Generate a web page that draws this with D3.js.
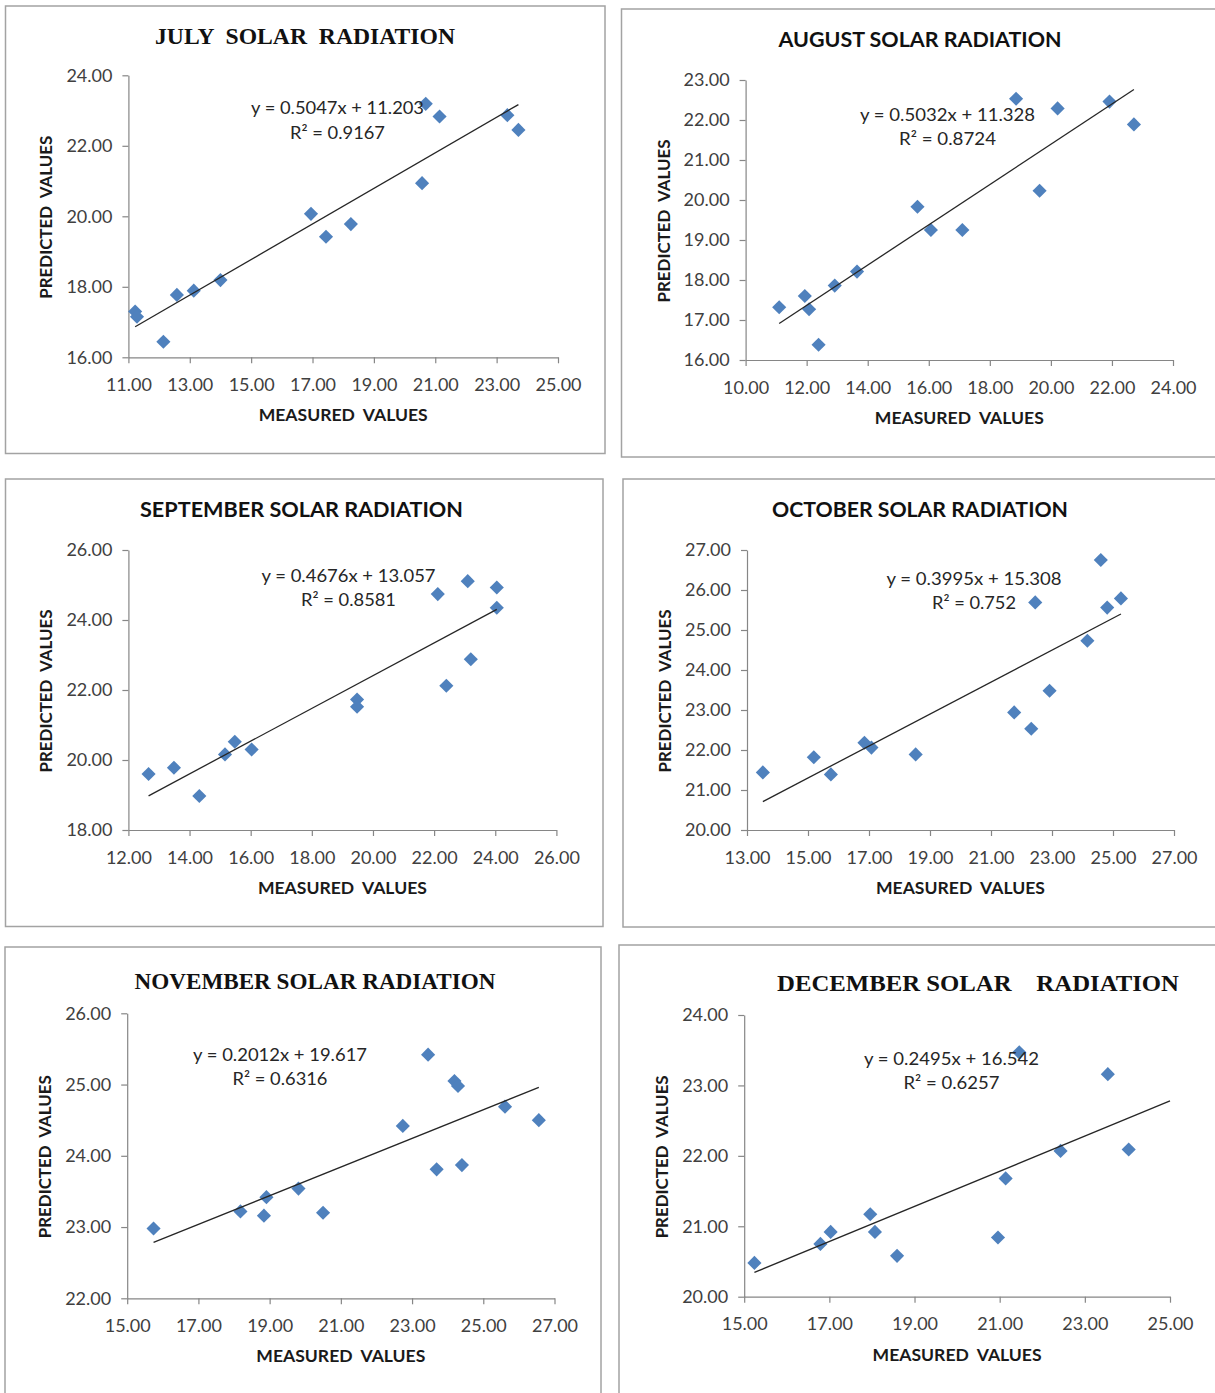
<!DOCTYPE html>
<html>
<head>
<meta charset="utf-8">
<script src="https://cdn.jsdelivr.net/npm/d3@7"></script>
<style>
  html, body { margin: 0; padding: 0; background: #fff; }
  svg { display: block; }
  text { white-space: pre; }
</style>
</head>
<body>
<svg id="chart" width="1215" height="1393"></svg>
<script>
// ---- data: measured vs predicted daily solar radiation, per month ----
const months = ["JULY", "AUGUST", "SEPTEMBER", "OCTOBER", "NOVEMBER", "DECEMBER"];
const titles = [
  "JULY  SOLAR  RADIATION",
  "AUGUST SOLAR RADIATION",
  "SEPTEMBER SOLAR RADIATION",
  "OCTOBER SOLAR RADIATION",
  "NOVEMBER SOLAR RADIATION",
  "DECEMBER SOLAR    RADIATION"
];

const julyMeasured  = [11.22, 11.28, 12.14, 12.58, 13.13, 14.00, 16.95, 17.44, 18.25, 20.57, 20.69, 21.14, 23.35, 23.71];
const julyPredicted = [17.30, 17.15, 16.44, 17.77, 17.89, 18.19, 20.07, 19.42, 19.78, 20.94, 23.19, 22.83, 22.87, 22.45];

const augMeasured  = [11.10, 11.94, 12.08, 12.39, 12.92, 13.65, 15.63, 16.07, 17.10, 18.86, 19.63, 20.22, 21.92, 22.72];
const augPredicted = [17.32, 17.60, 17.27, 16.38, 17.86, 18.21, 19.83, 19.25, 19.25, 22.53, 20.23, 22.29, 22.46, 21.89];

const sepMeasured  = [12.66, 13.49, 14.32, 15.16, 15.48, 16.03, 19.48, 19.48, 22.12, 22.40, 23.10, 23.20, 24.05, 24.05];
const sepPredicted = [19.60, 19.78, 18.97, 20.16, 20.52, 20.30, 21.73, 21.52, 24.74, 22.12, 25.11, 22.88, 24.93, 24.35];

const octMeasured  = [13.52, 15.19, 15.75, 16.85, 17.08, 18.53, 21.76, 22.32, 22.45, 22.92, 24.16, 24.60, 24.81, 25.26];
const octPredicted = [21.44, 21.82, 21.39, 22.18, 22.06, 21.89, 22.94, 22.53, 25.69, 23.48, 24.73, 26.75, 25.56, 25.79];

const novMeasured  = [15.74, 18.18, 18.84, 18.91, 19.81, 20.50, 22.74, 23.45, 23.69, 24.19, 24.29, 24.40, 25.61, 26.56];
const novPredicted = [22.98, 23.22, 23.16, 23.42, 23.54, 23.20, 24.42, 25.42, 23.81, 25.05, 24.98, 23.87, 24.69, 24.50];

const decMeasured  = [15.24, 16.79, 17.03, 17.96, 18.07, 18.59, 20.96, 21.14, 21.46, 22.43, 23.54, 24.03];
const decPredicted = [20.48, 20.75, 20.92, 21.17, 20.92, 20.58, 20.84, 21.68, 23.47, 22.07, 23.16, 22.09];

// linear trendline y = slope * x + intercept and its R²
const slopes     = [0.5047, 0.5032, 0.4676, 0.3995, 0.2012, 0.2495];
const intercepts = [11.203, 11.328, 13.057, 15.308, 19.617, 16.542];
const rSquared   = ["0.9167", "0.8724", "0.8581", "0.752", "0.6316", "0.6257"];
const trendRanges = [[11.22, 23.71], [11.10, 22.72], [12.66, 24.05], [13.52, 25.26], [15.74, 26.56], [15.24, 25.00]];

// axis extents and tick values
const xDomains = [[11, 25], [10, 24], [12, 26], [13, 27], [15, 27], [15, 25]];
const yDomains = [[16, 24], [16, 23], [18, 26], [20, 27], [22, 26], [20, 24]];
const xTickValues = [
  [11, 13, 15, 17, 19, 21, 23, 25],
  [10, 12, 14, 16, 18, 20, 22, 24],
  [12, 14, 16, 18, 20, 22, 24, 26],
  [13, 15, 17, 19, 21, 23, 25, 27],
  [15, 17, 19, 21, 23, 25, 27],
  [15, 17, 19, 21, 23, 25]
];
const yTickValues = [
  [16, 18, 20, 22, 24],
  [16, 17, 18, 19, 20, 21, 22, 23],
  [18, 20, 22, 24, 26],
  [20, 21, 22, 23, 24, 25, 26, 27],
  [22, 23, 24, 25, 26],
  [20, 21, 22, 23, 24]
];
const xAxisTitle = "MEASURED  VALUES";
const yAxisTitle = "PREDICTED  VALUES";

const seriesX = [julyMeasured, augMeasured, sepMeasured, octMeasured, novMeasured, decMeasured];
const seriesY = [julyPredicted, augPredicted, sepPredicted, octPredicted, novPredicted, decPredicted];

// ---- page layout ----
const frames = [
  { x: 5.5,   y: 6,   w: 599.5, h: 447.5 },
  { x: 621.5, y: 9,   w: 610,   h: 448 },
  { x: 5.5,   y: 479, w: 597.5, h: 447.5 },
  { x: 623,   y: 479, w: 610,   h: 448 },
  { x: 5,     y: 947, w: 596,   h: 470 },
  { x: 619,   y: 945, w: 610,   h: 470 }
];
const plots = [
  { left: 128.4, right: 558,   top: 75.3,   bottom: 357.3 },
  { left: 745.6, right: 1173,  top: 80,     bottom: 360 },
  { left: 128.4, right: 556.4, top: 550,    bottom: 830 },
  { left: 747,   right: 1174,  top: 550,    bottom: 830 },
  { left: 127.2, right: 554.5, top: 1013.3, bottom: 1298.3 },
  { left: 744.2, right: 1170,  top: 1015,   bottom: 1296.7 }
];
const titleStyle = [
  { cx: 305,   base: 43.5,  w: 300, serif: true },
  { cx: 920,   base: 47,    w: 283, serif: false },
  { cx: 301.5, base: 517,   w: 323, serif: false },
  { cx: 920,   base: 517,   w: 296, serif: false },
  { cx: 315,   base: 988.5, w: 361, serif: true },
  { cx: 978,   base: 991,   w: 402, serif: true }
];
const eqnStyle = [
  { cx: 337.5, base: 114,   w1: 173, w2: 95 },
  { cx: 947.5, base: 120.5, w1: 175, w2: 97 },
  { cx: 348.5, base: 581.5, w1: 174, w2: 95 },
  { cx: 974,   base: 584.5, w1: 175, w2: 84 },
  { cx: 280,   base: 1060.5,w1: 174, w2: 95 },
  { cx: 951.5, base: 1064.5,w1: 175, w2: 96 }
];

const SANS = "Lato, 'Open Sans', 'Noto Sans', sans-serif";
const SERIF = "'Liberation Serif', 'DejaVu Serif', serif";
const AXIS_GREY = "#868686";
const TEXT_GREY = "#404040";
const MARKER = "#4f81bd";
const fmt = d3.format(".2f");

const svg = d3.select("#chart");
svg.append("rect").attr("width", 1215).attr("height", 1393).attr("fill", "#fff");

function fit(sel, w) {
  sel.attr("textLength", w).attr("lengthAdjust", "spacingAndGlyphs");
}

const diamond = d3.symbol(d3.symbolSquare, 100);

months.forEach((month, i) => {
  const F = frames[i], P = plots[i];
  const g = svg.append("g").attr("class", "panel " + month.toLowerCase());

  // chart frame
  g.append("rect")
    .attr("x", F.x).attr("y", F.y).attr("width", F.w).attr("height", F.h)
    .attr("fill", "none").attr("stroke", "#a3a3a3").attr("stroke-width", 1.5);

  const x = d3.scaleLinear().domain(xDomains[i]).range([P.left, P.right]);
  const y = d3.scaleLinear().domain(yDomains[i]).range([P.bottom, P.top]);

  // axes
  const gx = g.append("g")
    .attr("transform", `translate(0,${P.bottom})`)
    .call(d3.axisBottom(x).tickValues(xTickValues[i]).tickFormat(fmt)
      .tickSizeInner(6).tickSizeOuter(0).tickPadding(15));
  const gy = g.append("g")
    .attr("transform", `translate(${P.left},0)`)
    .call(d3.axisLeft(y).tickValues(yTickValues[i]).tickFormat(fmt)
      .tickSizeInner(6).tickSizeOuter(0).tickPadding(10));
  [gx, gy].forEach(ax => {
    ax.select(".domain").attr("stroke", AXIS_GREY).attr("stroke-width", 1.2);
    ax.selectAll(".tick line").attr("stroke", AXIS_GREY).attr("stroke-width", 1.2);
    ax.selectAll(".tick text")
      .attr("fill", TEXT_GREY)
      .style("font-family", SANS).style("font-size", "18px");
  });

  // markers
  const pts = seriesX[i].map((v, k) => [v, seriesY[i][k]]);
  g.append("g").selectAll("path").data(pts).join("path")
    .attr("d", diamond)
    .attr("transform", d => `translate(${x(d[0])},${y(d[1])}) rotate(45)`)
    .attr("fill", MARKER);

  // linear trendline
  const trend = trendRanges[i].map(v => [v, slopes[i] * v + intercepts[i]]);
  g.append("path")
    .attr("d", d3.line().x(d => x(d[0])).y(d => y(d[1]))(trend))
    .attr("fill", "none").attr("stroke", "#262626").attr("stroke-width", 1.3);

  // trendline equation and R²
  const E = eqnStyle[i];
  g.append("text")
    .attr("x", E.cx).attr("y", E.base).attr("text-anchor", "middle")
    .attr("fill", "#262626").style("font-family", SANS).style("font-size", "18px")
    .text(`y = ${slopes[i].toFixed(4)}x + ${intercepts[i].toFixed(3)}`)
    .call(fit, E.w1);
  g.append("text")
    .attr("x", E.cx).attr("y", E.base + 24.5).attr("text-anchor", "middle")
    .attr("fill", "#262626").style("font-family", SANS).style("font-size", "18px")
    .text(`R² = ${rSquared[i]}`)
    .call(fit, E.w2);

  // chart title
  const T = titleStyle[i];
  g.append("text")
    .attr("x", T.cx).attr("y", T.base).attr("text-anchor", "middle")
    .attr("fill", "#111")
    .style("font-family", T.serif ? SERIF : SANS)
    .style("font-weight", "bold")
    .style("font-size", T.serif ? "24px" : "21px")
    .text(titles[i])
    .call(fit, T.w);

  // axis titles
  g.append("text")
    .attr("x", (P.left + P.right) / 2).attr("y", P.bottom + 64)
    .attr("text-anchor", "middle").attr("fill", "#1a1a1a")
    .style("font-family", SANS).style("font-weight", "bold").style("font-size", "17px")
    .text(xAxisTitle)
    .call(fit, 169);
  g.append("text")
    .attr("transform", `translate(${P.left - 76},${(P.top + P.bottom) / 2 + 1}) rotate(-90)`)
    .attr("text-anchor", "middle").attr("fill", "#1a1a1a")
    .style("font-family", SANS).style("font-weight", "bold").style("font-size", "17px")
    .text(yAxisTitle)
    .call(fit, 163);
});
</script>
</body>
</html>
